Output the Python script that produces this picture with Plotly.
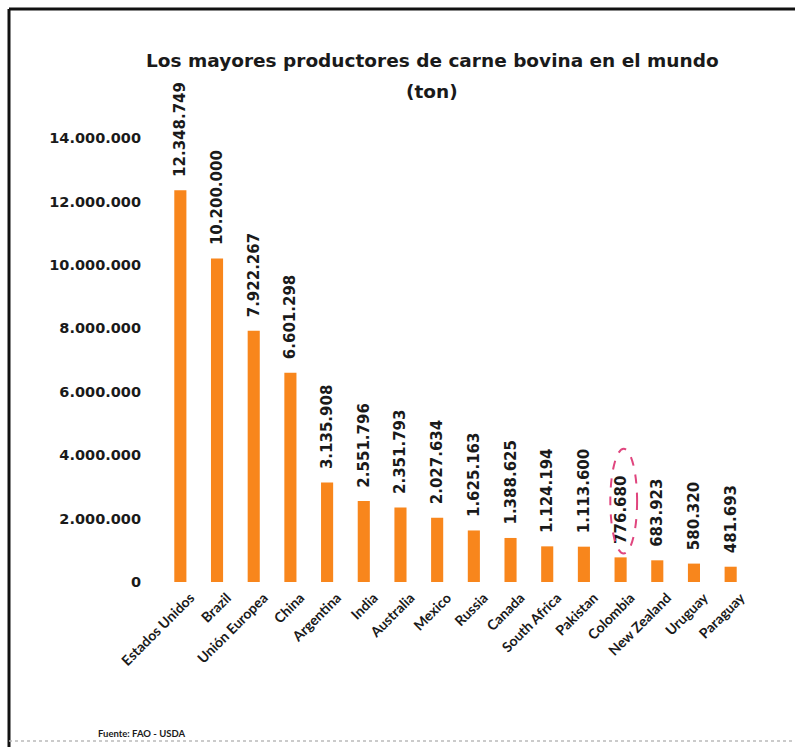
import plotly.graph_objects as go

# Beef production by country (tonnes)
countries = ["Estados Unidos", "Brazil", "Unión Europea", "China", "Argentina", "India",
             "Australia", "Mexico", "Russia", "Canada", "South Africa", "Pakistan",
             "Colombia", "New Zealand", "Uruguay", "Paraguay"]
production = [12348749, 10200000, 7922267, 6601298, 3135908, 2551796,
              2351793, 2027634, 1625163, 1388625, 1124194, 1113600,
              776680, 683923, 580320, 481693]
y_ticks = [0, 2000000, 4000000, 6000000, 8000000, 10000000, 12000000, 14000000]

BAR_COLOR = "#F8861C"
W, H = 795, 747
L, R, T, B = 162, 749, 138, 582  # plot area in pixels


def px(x):
    return (x - L) / (R - L)


def py(y):
    return (B - y) / (B - T)


def dotted(v):
    return f"{v:,}".replace(",", ".")


NBSP = "\u00a0"

fig = go.Figure()
fig.add_trace(go.Bar(
    x=countries,
    y=production,
    marker=dict(color=BAR_COLOR, line=dict(width=0)),
    # leading no-break spaces lift the vertical value labels off the bar tops
    text=[NBSP * 2 + dotted(v) for v in production],
    textposition="outside",
    textangle=-90,
    constraintext="none",
    cliponaxis=False,
    textfont=dict(family="DejaVu Sans", size=15, color="#1a1a1a", weight="bold"),
    hoverinfo="skip",
))

# Title (two lines)
fig.add_annotation(text="<b>Los mayores productores de carne bovina en el mundo</b>",
                   xref="paper", yref="paper", x=px(432), y=py(60),
                   xanchor="center", yanchor="middle", showarrow=False,
                   font=dict(family="DejaVu Sans", size=18.5, color="#1a1a1a"))
fig.add_annotation(text="<b>(ton)</b>",
                   xref="paper", yref="paper", x=px(432), y=py(92),
                   xanchor="center", yanchor="middle", showarrow=False,
                   font=dict(family="DejaVu Sans", size=18.5, color="#1a1a1a"))

# Source note
fig.add_annotation(text="<b>Fuente: FAO - USDA</b>",
                   xref="paper", yref="paper", x=px(96), y=py(733),
                   xanchor="left", yanchor="middle", showarrow=False,
                   font=dict(family="Lato", size=9.5, color="#1a1a1a"))

# Dashed ellipse highlighting Colombia
ci = countries.index("Colombia")
fig.add_shape(type="circle", xref="x", yref="y",
              x0=ci - 0.28, x1=ci + 0.45, y0=900000, y1=4200000,
              line=dict(color="#E0457E", width=2, dash="dash"))

# Frame lines
fig.add_shape(type="line", xref="paper", yref="paper",
              x0=px(9), x1=px(W + 5), y0=py(9), y1=py(9),
              line=dict(color="#111111", width=3))
fig.add_shape(type="line", xref="paper", yref="paper",
              x0=px(9), x1=px(9), y0=py(9), y1=py(W),
              line=dict(color="#111111", width=3))
fig.add_shape(type="line", xref="paper", yref="paper",
              x0=px(9), x1=px(W + 5), y0=py(741), y1=py(741),
              line=dict(color="#bbbbbb", width=1.5, dash="dot"))

fig.update_layout(
    width=W, height=H,
    margin=dict(l=L, r=W - R, t=T, b=H - B, pad=0),
    paper_bgcolor="white", plot_bgcolor="white",
    separators=",.",
    bargap=0.67,
    showlegend=False,
    xaxis=dict(tickangle=-45, showgrid=False, showline=False, zeroline=False,
               ticks="", ticklabelshift=10, ticklabelstandoff=4,
               tickfont=dict(family="Lato", size=14, color="#1a1a1a",
                             weight="bold")),
    yaxis=dict(range=[0, 14000000], tickvals=y_ticks,
               ticktext=[dotted(v) for v in y_ticks],
               showgrid=False, showline=False, zeroline=False, ticks="",
               ticklabelstandoff=20,
               tickfont=dict(family="DejaVu Sans", size=14.5, color="#1a1a1a",
                             weight="bold")),
)

fig.write_html("out.html")
